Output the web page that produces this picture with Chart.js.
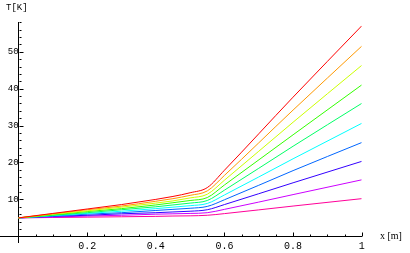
<!DOCTYPE html>
<html>
<head>
<meta charset="utf-8">
<script src="https://cdn.jsdelivr.net/npm/chart.js@4/dist/chart.umd.min.js"></script>
<style>
html,body{margin:0;padding:0;background:#fff;}
#wrap{width:410px;height:253px;position:relative;}
</style>
</head>
<body>
<div id="wrap"><canvas id="c" width="410" height="253"></canvas></div>
<script>
// x positions [m]
const xValues = [0, 0.1, 0.2, 0.3, 0.4, 0.45, 0.5, 0.55, 0.6, 0.8, 1.0];
// temperature curves T[K], top (red) to bottom (pink)
const tRed     = [5, 6.2, 7.4, 8.6, 10.0, 10.8, 11.8, 13.2, 17.9, 37.7, 57.0];
const tOrange  = [5, 6.1, 7.2, 8.2, 9.5, 10.2, 11.1, 12.3, 16.5, 34.2, 51.5];
const tYellow  = [5, 6.0, 6.9, 7.9, 9.0, 9.6, 10.4, 11.4, 15.2, 30.9, 46.3];
const tLime    = [5, 5.8, 6.7, 7.5, 8.5, 9.1, 9.7, 10.5, 13.9, 27.5, 41.0];
const tGreen   = [5, 5.7, 6.4, 7.2, 8.0, 8.5, 9.0, 9.7, 12.5, 24.4, 36.0];
const tCyan    = [5, 5.6, 6.2, 6.8, 7.5, 7.9, 8.3, 8.9, 11.2, 21.0, 30.6];
const tAzure   = [5, 5.5, 6.0, 6.4, 7.0, 7.3, 7.6, 8.1, 9.9, 17.8, 25.4];
const tBlue    = [5, 5.4, 5.7, 6.1, 6.4, 6.6, 6.8, 7.2, 8.6, 14.5, 20.3];
const tViolet  = [5, 5.2, 5.5, 5.7, 6.0, 6.1, 6.2, 6.4, 7.3, 11.3, 15.3];
const tPink    = [5, 5.1, 5.2, 5.3, 5.4, 5.5, 5.55, 5.7, 6.15, 8.2, 10.2];
const seriesList = [tRed, tOrange, tYellow, tLime, tGreen, tCyan, tAzure, tBlue, tViolet, tPink];
const seriesColors = ['#ff0000','#ff9900','#ccff00','#33ff00','#00ff66','#00ffff','#0066ff','#3300ff','#cc00ff','#ff0099'];
// tick values
const xTickVals = [0.2, 0.4, 0.6, 0.8, 1];
const yTickVals = [10, 20, 30, 40, 50];
const xMinorVals = [0.05,0.1,0.15,0.25,0.3,0.35,0.45,0.5,0.55,0.65,0.7,0.75,0.85,0.9,0.95];
const yMinorVals = [2,4,6,8,12,14,16,18,22,24,26,28,32,34,36,38,42,44,46,48,52,54,56,58];
const xAxisLabel = 'x [m]';
const yAxisLabel = 'T[K]';

const datasets = seriesList.map((s, i) => ({
  data: s.map((v, j) => ({x: xValues[j], y: v})),
  borderColor: seriesColors[i],
  borderWidth: 1,
  pointRadius: 0,
  fill: false,
  cubicInterpolationMode: 'monotone'
}));

const axesPlugin = {
  id: 'mmaAxes',
  afterDraw(chart) {
    const ctx = chart.ctx;
    const xs = chart.scales.x, ys = chart.scales.y;
    const x0 = Math.round(xs.getPixelForValue(0)) + 0.5;
    const y0 = Math.round(ys.getPixelForValue(0)) + 0.5;
    ctx.save();
    ctx.strokeStyle = '#000';
    ctx.lineWidth = 1;
    ctx.beginPath();
    xTickVals.forEach(v => { const p = Math.round(xs.getPixelForValue(v)) + 0.5; ctx.moveTo(p, y0); ctx.lineTo(p, y0 - 4); });
    xMinorVals.forEach(v => { const p = Math.round(xs.getPixelForValue(v)) + 0.5; ctx.moveTo(p, y0); ctx.lineTo(p, y0 - 2); });
    yTickVals.forEach(v => { const p = Math.round(ys.getPixelForValue(v)) + 0.5; ctx.moveTo(x0, p); ctx.lineTo(x0 + 4, p); });
    yMinorVals.forEach(v => { const p = Math.round(ys.getPixelForValue(v)) + 0.5; ctx.moveTo(x0, p); ctx.lineTo(x0 + 2, p); });
    ctx.stroke();
    ctx.fillStyle = '#000';
    ctx.font = '9px "Liberation Mono"';
    ctx.textAlign = 'left';
    ctx.textBaseline = 'middle';
    ctx.fillText(yAxisLabel, 6, 8);
    ctx.font = '10px "Liberation Serif"';
    ctx.fillText(xAxisLabel, 380, y0);
    ctx.restore();
  }
};

new Chart(document.getElementById('c'), {
  type: 'line',
  data: {datasets},
  options: {
    responsive: false,
    animation: false,
    events: [],
    layout: {padding: {left: 0, right: 48.3, top: 22.2, bottom: 8}},
    plugins: {legend: {display: false}, tooltip: {enabled: false}},
    scales: {
      x: {
        type: 'linear',
        min: -0.054, max: 1.0,
        position: {y: 0},
        afterBuildTicks: s => { s.ticks = xTickVals.map(v => ({value: v})); },
        ticks: {font: {family: 'Liberation Mono', size: 10}, color: '#000', padding: 4, maxRotation: 0, autoSkip: false,
          callback: v => (v === 1 ? '1' : v.toFixed(1))},
        grid: {display: true, drawOnChartArea: false, drawTicks: false},
        border: {display: true, color: '#000', width: 1}
      },
      y: {
        type: 'linear',
        min: -1.7, max: 58,
        position: {x: 0},
        afterBuildTicks: s => { s.ticks = yTickVals.map(v => ({value: v})); },
        ticks: {font: {family: 'Liberation Mono', size: 9}, color: '#000', padding: 5, autoSkip: false,
          callback: v => String(v)},
        grid: {display: true, drawOnChartArea: false, drawTicks: false},
        border: {display: true, color: '#000', width: 1}
      }
    }
  },
  plugins: [axesPlugin]
});
</script>
</body>
</html>
